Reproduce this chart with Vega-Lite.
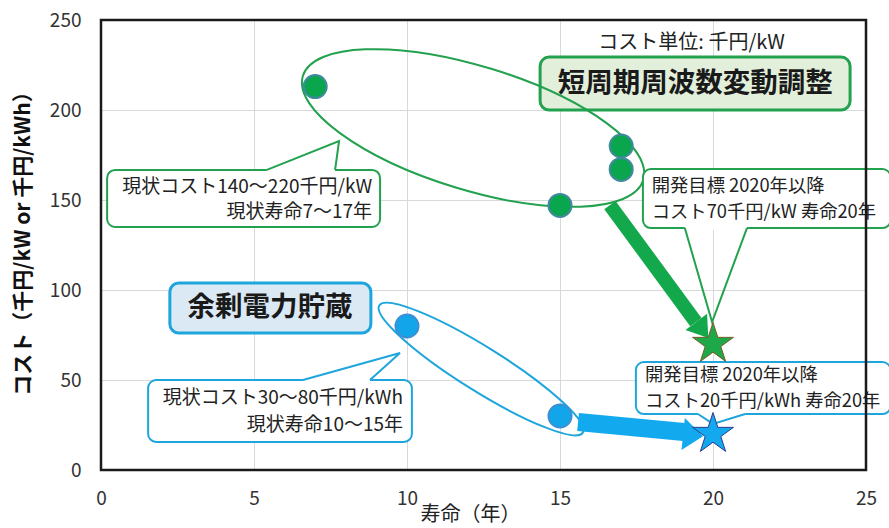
{
  "$schema": "https://vega.github.io/schema/vega-lite/v6.json",
  "width": 765,
  "height": 450,
  "autosize": {"type": "none"},
  "padding": {"left": 101, "top": 20, "right": 23, "bottom": 58},
  "background": "white",
  "config": {
    "view": {"stroke": null},
    "font": "Noto Sans CJK JP",
    "axis": {
      "grid": true,
      "gridColor": "#d9d9d9",
      "gridWidth": 1,
      "domain": false,
      "ticks": false,
      "labelFlush": false,
      "labelFont": "Noto Sans CJK JP",
      "labelFontSize": 19,
      "labelColor": "#333333",
      "titleFont": "Noto Sans CJK JP",
      "titleColor": "#222222"
    }
  },
  "encoding": {
    "x": {
      "field": "x",
      "type": "quantitative",
      "scale": {"domain": [0, 25], "nice": false, "zero": false},
      "axis": {
        "values": [0, 5, 10, 15, 20, 25],
        "labelPadding": 19,
        "title": "寿命（年）",
        "titleFontSize": 20,
        "titleFontWeight": "normal",
        "titleX": 369,
        "titleY": 34,
        "titleBaseline": "top"
      }
    },
    "y": {
      "field": "y",
      "type": "quantitative",
      "scale": {"domain": [0, 250], "nice": false, "zero": false},
      "axis": {
        "values": [0, 50, 100, 150, 200, 250],
        "labelPadding": 20,
        "title": "コスト（千円/kW or 千円/kWh）",
        "titleFontSize": 21,
        "titleFontWeight": "bold",
        "titleColor": "#111111",
        "titleX": -78,
        "titleY": 218,
        "titleAlign": "center",
        "titleBaseline": "middle",
        "titleAngle": -90
      }
    }
  },
  "layer": [
    {
      "data": {"values": [{"x": 14.35, "x2": 24.48, "y": 229.4, "y2": 200}]},
      "mark": {"type": "rect", "fill": "#e2efda", "stroke": "#22a14e", "strokeWidth": 3, "cornerRadius": 9},
      "encoding": {"x2": {"field": "x2"}, "y2": {"field": "y2"}}
    },
    {
      "data": {"values": [{"x": 2.25, "x2": 8.82, "y": 103.9, "y2": 76.1}]},
      "mark": {"type": "rect", "fill": "#dbe9f5", "stroke": "#1ea6dc", "strokeWidth": 3, "cornerRadius": 9},
      "encoding": {"x2": {"field": "x2"}, "y2": {"field": "y2"}}
    },
    {
      "data": {"values": [{"x": 12.16, "y": 190}]},
      "mark": {"type": "point", "filled": false, "stroke": "#22a14e", "strokeWidth": 2, "opacity": 1, "size": 126736, "angle": 17,
        "shape": "M1 0C1 0.1922 0.5523 0.348 0 0.348C-0.5523 0.348 -1 0.1922 -1 0C-1 -0.1922 -0.5523 -0.348 0 -0.348C0.5523 -0.348 1 -0.1922 1 0Z"}
    },
    {
      "data": {"values": [{"x": 12.42, "y": 56.1}]},
      "mark": {"type": "point", "filled": false, "stroke": "#1ea6dc", "strokeWidth": 2, "opacity": 1, "size": 57600, "angle": 32,
        "shape": "M1 0C1 0.1013 0.5523 0.1833 0 0.1833C-0.5523 0.1833 -1 0.1013 -1 0C-1 -0.1013 -0.5523 -0.1833 0 -0.1833C0.5523 -0.1833 1 -0.1013 1 0Z"}
    },
    {
      "data": {"values": [{"x": 16.63, "y": 147.2, "x2": 19.44, "y2": 82.2}]},
      "mark": {"type": "rule", "stroke": "#14a84c", "strokeWidth": 14, "strokeCap": "butt"},
      "encoding": {"x2": {"field": "x2"}, "y2": {"field": "y2"}}
    },
    {
      "data": {"values": [{"x": 19.65, "y": 77.8}]},
      "mark": {"type": "point", "filled": true, "fill": "#14a84c", "opacity": 1, "size": 400, "angle": 53, "shape": "M1 0L-1 -1.35L-1 1.35Z"}
    },
    {
      "data": {"values": [{"x": 15.59, "y": 26.7, "x2": 19.05, "y2": 21.1}]},
      "mark": {"type": "rule", "stroke": "#12a9ee", "strokeWidth": 18, "strokeCap": "butt"},
      "encoding": {"x2": {"field": "x2"}, "y2": {"field": "y2"}}
    },
    {
      "data": {"values": [{"x": 19.35, "y": 19.4}]},
      "mark": {"type": "point", "filled": true, "fill": "#12a9ee", "opacity": 1, "size": 400, "angle": 6, "shape": "M1 0L-1 -1.6L-1 1.6Z"}
    },
    {
      "data": {"values": [
        {"x": 0.2, "x2": 9.12, "y": 166.7, "y2": 135},
        {"x": 17.71, "x2": 25.8, "y": 167.2, "y2": 134.4}
      ]},
      "mark": {"type": "rect", "fill": "white", "stroke": "#22a14e", "strokeWidth": 2, "cornerRadius": 8},
      "encoding": {"x2": {"field": "x2"}, "y2": {"field": "y2"}}
    },
    {
      "data": {"values": [
        {"x": 1.54, "x2": 10.16, "y": 50, "y2": 15.6},
        {"x": 17.48, "x2": 25.8, "y": 60, "y2": 31.1}
      ]},
      "mark": {"type": "rect", "fill": "white", "stroke": "#1ea6dc", "strokeWidth": 2, "cornerRadius": 8},
      "encoding": {"x2": {"field": "x2"}, "y2": {"field": "y2"}}
    },
    {
      "data": {"values": [
        {"x": 5.42, "x2": 7.65, "y": 166.7},
        {"x": 19.08, "x2": 21.11, "y": 134.4},
        {"x": 6.6, "x2": 8.79, "y": 50},
        {"x": 19.51, "x2": 21.05, "y": 31.1}
      ]},
      "mark": {"type": "rule", "stroke": "white", "strokeWidth": 4, "strokeCap": "butt"},
      "encoding": {"x2": {"field": "x2"}}
    },
    {
      "data": {"values": [
        {"id": "g1", "i": 0, "x": 5.42, "y": 166.7},
        {"id": "g1", "i": 1, "x": 7.78, "y": 182.8},
        {"id": "g1", "i": 2, "x": 7.65, "y": 166.7},
        {"id": "g2", "i": 0, "x": 19.08, "y": 134.4},
        {"id": "g2", "i": 1, "x": 19.97, "y": 82.2},
        {"id": "g2", "i": 2, "x": 21.11, "y": 134.4}
      ]},
      "mark": {"type": "line", "stroke": "#22a14e", "strokeWidth": 2},
      "encoding": {"detail": {"field": "id"}, "order": {"field": "i"}}
    },
    {
      "data": {"values": [
        {"id": "b1", "i": 0, "x": 6.6, "y": 50},
        {"id": "b1", "i": 1, "x": 9.77, "y": 65},
        {"id": "b1", "i": 2, "x": 8.79, "y": 50},
        {"id": "b2", "i": 0, "x": 19.51, "y": 31.1},
        {"id": "b2", "i": 1, "x": 20, "y": 25.6},
        {"id": "b2", "i": 2, "x": 21.05, "y": 31.1}
      ]},
      "mark": {"type": "line", "stroke": "#1ea6dc", "strokeWidth": 2},
      "encoding": {"detail": {"field": "id"}, "order": {"field": "i"}}
    },
    {
      "data": {"values": [
        {"x": 7, "y": 213},
        {"x": 17, "y": 180},
        {"x": 17, "y": 167},
        {"x": 15, "y": 147}
      ]},
      "mark": {"type": "point", "filled": true, "fill": "#0aa64e", "stroke": "#3f8a9c", "strokeWidth": 2, "opacity": 1, "size": 530, "shape": "circle"}
    },
    {
      "data": {"values": [
        {"x": 10, "y": 80},
        {"x": 15, "y": 30}
      ]},
      "mark": {"type": "point", "filled": true, "fill": "#13a5ea", "stroke": "#3b8fd4", "strokeWidth": 2, "opacity": 1, "size": 530, "shape": "circle"}
    },
    {
      "data": {"values": [{"x": 20, "y": 70}]},
      "mark": {"type": "point", "filled": true, "fill": "#1ea84a", "stroke": "#7a5a28", "strokeWidth": 1, "opacity": 1, "size": 1850,
        "shape": "M0 -1L0.2245 -0.309L0.9511 -0.309L0.3633 0.118L0.5878 0.809L0 0.382L-0.5878 0.809L-0.3633 0.118L-0.9511 -0.309L-0.2245 -0.309Z"}
    },
    {
      "data": {"values": [{"x": 20, "y": 20}]},
      "mark": {"type": "point", "filled": true, "fill": "#12a9ee", "stroke": "#2c3b8f", "strokeWidth": 1, "opacity": 1, "size": 1850,
        "shape": "M0 -1L0.2245 -0.309L0.9511 -0.309L0.3633 0.118L0.5878 0.809L0 0.382L-0.5878 0.809L-0.3633 0.118L-0.9511 -0.309L-0.2245 -0.309Z"}
    },
    {
      "data": {"values": [
        {"x": 19.42, "y": 214.7, "t": "短周期周波数変動調整"},
        {"x": 5.52, "y": 90, "t": "余剰電力貯蔵"}
      ]},
      "mark": {"type": "text", "font": "Noto Sans CJK JP", "fontSize": 27.5, "fontWeight": "bold", "color": "#1a1a1a", "align": "center", "baseline": "middle"},
      "encoding": {"text": {"field": "t"}}
    },
    {
      "data": {"values": [{"x": 19.3, "y": 237.2, "t": "コスト単位: 千円/kW"}]},
      "mark": {"type": "text", "font": "Noto Sans CJK JP", "fontSize": 20, "color": "#222222", "align": "center", "baseline": "middle"},
      "encoding": {"text": {"field": "t"}}
    },
    {
      "data": {"values": [
        {"x": 8.86, "y": 157.2, "t": "現状コスト140～220千円/kW"},
        {"x": 8.86, "y": 143.3, "t": "現状寿命7～17年"},
        {"x": 9.87, "y": 40, "t": "現状コスト30～80千円/kWh"},
        {"x": 9.87, "y": 25, "t": "現状寿命10～15年"}
      ]},
      "mark": {"type": "text", "font": "Noto Sans CJK JP", "fontSize": 19, "color": "#222222", "align": "right", "baseline": "middle"},
      "encoding": {"text": {"field": "t"}}
    },
    {
      "data": {"values": [
        {"x": 18.0, "y": 157.2, "t": "開発目標 2020年以降"},
        {"x": 18.0, "y": 142.8, "t": "コスト70千円/kW 寿命20年"},
        {"x": 17.78, "y": 52.2, "t": "開発目標 2020年以降"},
        {"x": 17.78, "y": 37.8, "t": "コスト20千円/kWh 寿命20年"}
      ]},
      "mark": {"type": "text", "font": "Noto Sans CJK JP", "fontSize": 18.3, "color": "#222222", "align": "left", "baseline": "middle"},
      "encoding": {"text": {"field": "t"}}
    },
    {
      "data": {"values": [{"x": 0, "x2": 25, "y": 0, "y2": 250}]},
      "mark": {"type": "rect", "filled": false, "stroke": "#1a1a1a", "strokeWidth": 2.5, "opacity": 1},
      "encoding": {"x2": {"field": "x2"}, "y2": {"field": "y2"}}
    }
  ]
}
